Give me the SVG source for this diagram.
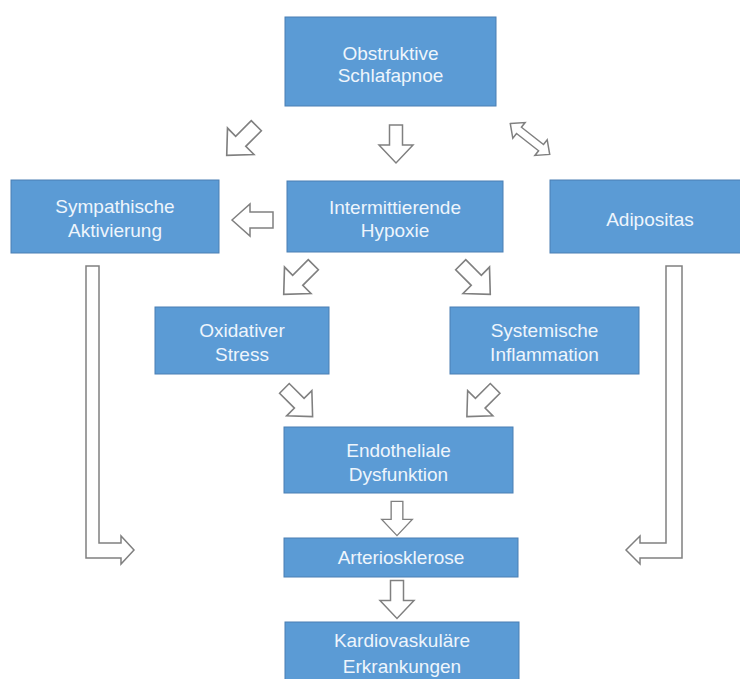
<svg xmlns="http://www.w3.org/2000/svg" xmlns:xlink="http://www.w3.org/1999/xlink" width="740" height="679" viewBox="0 0 740 679">
<style>
.box{fill:#5b9bd5;stroke:#4a7fb3;stroke-width:1}
.t{font-family:"Liberation Sans",Arial,sans-serif;font-size:19px;fill:#eef5fc;text-anchor:middle}
.ar{fill:#ffffff;stroke:#808080;stroke-width:1.5;stroke-linejoin:miter}
</style>
<defs>
<polygon id="down" points="-6.5,-19 6.5,-19 6.5,1 17,1 0,19 -17,1 -6.5,1"/>
<polygon id="dbl" points="-25,0 -14,-10 -14,-4 14,-4 14,-10 25,0 14,10 14,4 -14,4 -14,10"/>
</defs>
<rect width="740" height="679" fill="#ffffff"/>

<g id="n_osa">
<rect class="box" x="285" y="17" width="211" height="89"/>
<text class="t" x="390.5" y="60">Obstruktive</text>
<text class="t" x="390.5" y="82">Schlafapnoe</text>
</g>
<g id="n_hypoxie">
<rect class="box" x="287" y="181" width="216" height="71"/>
<text class="t" x="395" y="214">Intermittierende</text>
<text class="t" x="395" y="237">Hypoxie</text>
</g>
<g id="n_sympath">
<rect class="box" x="11" y="180" width="208" height="73"/>
<text class="t" x="115" y="213">Sympathische</text>
<text class="t" x="115" y="237">Aktivierung</text>
</g>
<g id="n_adipositas">
<rect class="box" x="550" y="180" width="200" height="73"/>
<text class="t" x="650" y="226">Adipositas</text>
</g>
<g id="n_oxid">
<rect class="box" x="155" y="307" width="174" height="67"/>
<text class="t" x="242" y="337">Oxidativer</text>
<text class="t" x="242" y="361">Stress</text>
</g>
<g id="n_inflam">
<rect class="box" x="450" y="307" width="189" height="67"/>
<text class="t" x="544.5" y="337">Systemische</text>
<text class="t" x="544.5" y="361">Inflammation</text>
</g>
<g id="n_endo">
<rect class="box" x="284" y="427" width="229" height="66"/>
<text class="t" x="398.5" y="457">Endotheliale</text>
<text class="t" x="398.5" y="481">Dysfunktion</text>
</g>
<g id="n_arterio">
<rect class="box" x="284" y="538" width="234" height="39"/>
<text class="t" x="401" y="564">Arteriosklerose</text>
</g>
<g id="n_kardio">
<rect class="box" x="285" y="622" width="234" height="70"/>
<text class="t" x="402" y="647">Kardiovaskuläre</text>
<text class="t" x="402" y="673">Erkrankungen</text>
</g>

<g id="connectors">
<use xlink:href="#down" class="ar" transform="translate(396,144)"/>
<use xlink:href="#down" class="ar" transform="translate(241.5,140.5) rotate(45) scale(1.1)" vector-effect="non-scaling-stroke"/>
<use xlink:href="#dbl" class="ar" transform="translate(530,139) rotate(38)"/>
<polygon class="ar" points="232,220 250,204 250,212 273,212 273,228 250,228 250,236"/>
<use xlink:href="#down" class="ar" transform="translate(298.5,279.5) rotate(45) scale(1.1)"/>
<use xlink:href="#down" class="ar" transform="translate(475.5,279.5) rotate(-45) scale(1.1)"/>
<use xlink:href="#down" class="ar" transform="translate(298.5,402.5) rotate(-45) scale(1.05)"/>
<use xlink:href="#down" class="ar" transform="translate(481,402.5) rotate(45) scale(1.05)"/>
<use xlink:href="#down" class="ar" transform="translate(397,518.5) scale(0.9)"/>
<use xlink:href="#down" class="ar" transform="translate(397,599.5)"/>
<polygon class="ar" points="86,266 99,266 99,543 121,543 121,536 134,550 121,564 121,558 86,558"/>
<polygon class="ar" points="666,266 682,266 682,558 640,558 640,564 626,550 640,536 640,543 666,543"/>
</g>
</svg>
